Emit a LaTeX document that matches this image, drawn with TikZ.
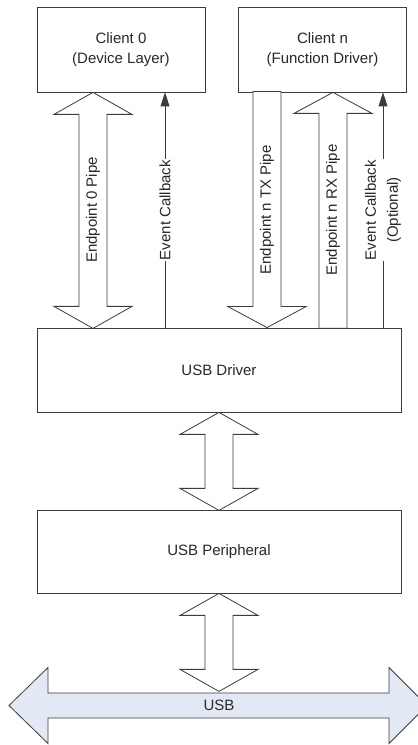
\documentclass[tikz,border=0pt]{standalone}
\usepackage{fontspec}
\setmainfont{Liberation Sans}
\usepackage{tikz}
\usetikzlibrary{arrows.meta,calc}

\definecolor{linegray}{RGB}{60,60,60}
\definecolor{textgray}{RGB}{40,40,40}
\definecolor{busblue}{RGB}{226,233,245}

% fat vertical pipe: #1 tip, #2 length, #3 = 1 points up, -1 points down
\newcommand{\fatpipe}[3]{%
  \draw[pipe,shift={(#1)},yscale=#3]
    (0,0) -- (39,-21) -- (14,-21) -- (14,-#2) -- (-14,-#2)
    -- (-14,-21) -- (-39,-21) -- cycle;}

% fat double arrow hanging below #1, #2 long
\newcommand{\fatlink}[2]{%
  \draw[pipe,shift={(#1)}]
    (0,0) -- (39,-22) -- (14,-22) -- (14,-#2+22) -- (39,-#2+22) -- (0,-#2)
    -- (-39,-#2+22) -- (-14,-#2+22) -- (-14,-22) -- (-39,-22) -- cycle;}

\begin{document}
\begin{tikzpicture}[x=1pt,y=1pt,
  every node/.style={text=textgray,font=\fontsize{15}{20}\selectfont},
  box/.style={draw=linegray,line width=0.8pt,fill=white,align=center,
              minimum width=364pt,minimum height=84pt,inner sep=0pt},
  client/.style={box,minimum width=168pt,minimum height=85pt},
  pipe/.style={draw=linegray,line width=0.8pt,fill=white,line join=miter},
  callback/.style={draw=linegray,line width=0.8pt,
                   -{Triangle[length=14pt,width=9pt]}},
  vlabel/.style={rotate=90,inner sep=1pt,align=center,
                 font=\fontsize{15}{22}\selectfont},
  ]
  \useasboundingbox (0,0) rectangle (418,745);
  \clip (0,0) rectangle (418,745);

  % clients
  \node[client] (client0) at (121,695.5) {Client 0\\(Device Layer)};
  \node[client] (clientn) at (322.5,695.5) {Client n\\(Function Driver)};

  % driver and peripheral
  \node[box] (driver) at (219,375) {USB Driver};
  \node[box,minimum height=83pt] (periph) at (219,193.5) {USB Peripheral};

  % pipes between clients and driver
  \coordinate (ep0) at (93,535);
  \coordinate (eptx) at (267,535);
  \coordinate (eprx) at (333,535);
  \fatlink{ep0 |- client0.south}{236}
  \fatpipe{eptx |- driver.north}{236}{-1}
  \fatpipe{eprx |- clientn.south}{236}{1}
  \node[vlabel] at (ep0) {Endpoint 0 Pipe};
  \node[vlabel] at (eptx) {Endpoint n TX Pipe};
  \node[vlabel] at (eprx) {Endpoint n RX Pipe};

  % event callbacks
  \coordinate (cb0) at (165,535);
  \coordinate (cbn) at (383,535);
  \draw[callback] (cb0 |- driver.north) -- (cb0 |- client0.south);
  \draw[callback] (cbn |- driver.north) -- (cbn |- clientn.south);
  \node[vlabel,fill=white] at (cb0) {Event Callback};
  \node[vlabel,fill=white] at (cbn) {Event Callback\\(Optional)};

  % driver <-> peripheral <-> bus
  \fatlink{driver.south}{98}
  \fatlink{periph.south}{98}

  % USB bus
  \draw[pipe,fill=busblue]
    (9,39.5) -- (48,77.5) -- (48,52) -- (389,52) -- (389,77.5)
    -- (427,39.5) -- (389,1.5) -- (389,27) -- (48,27) -- (48,1.5) -- cycle;
  \node[inner sep=0pt] (bus) at (219,39.5) {USB};
\end{tikzpicture}
\end{document}
